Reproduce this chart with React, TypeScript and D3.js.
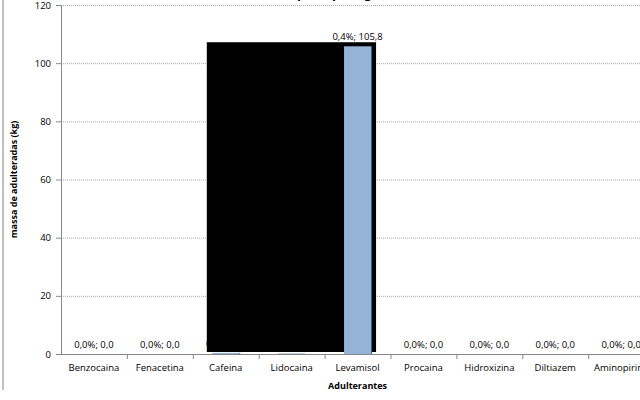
import React from "react";
import * as d3 from "d3";

// Adulterant categories and the mass (kg) / share (%) found for each
const categories = [
  "Benzocaina",
  "Fenacetina",
  "Cafeina",
  "Lidocaina",
  "Levamisol",
  "Procaina",
  "Hidroxizina",
  "Diltiazem",
  "Aminopirina",
];
const massKg = [0.0, 0.0, 0.4, 0.2, 105.8, 0.0, 0.0, 0.0, 0.0];
const sharePct = [0.0, 0.0, 0.1, 0.1, 0.4, 0.0, 0.0, 0.0, 0.0];
const yTicks = [0, 20, 40, 60, 80, 100, 120];

const W = 640;
const H = 400;
const FONT = "'Open Sans', 'Liberation Sans', sans-serif";

const fmt = (v: number) => v.toFixed(1).replace(".", ",");

export default function App() {
  const left = 61;
  const step = 65.9;
  const x = d3
    .scaleBand<string>()
    .domain(categories)
    .range([left, left + step * categories.length])
    .paddingInner(0.59)
    .paddingOuter(0.295);
  const band = d3
    .scaleBand<string>()
    .domain(categories)
    .range([left, left + step * categories.length]);
  const y = d3.scaleLinear().domain([0, 120]).range([354, 5]);

  const xEnd = left + step * categories.length;

  // redaction panel over the middle categories
  const boxX0 = (band("Cafeina") ?? 0) + 14;
  const boxX1 = (x("Levamisol") ?? 0) + x.bandwidth() + 5;
  const boxY0 = y(107.2);
  const boxY1 = y(0) - 2;

  return (
    <div style={{ position: "fixed", left: 0, top: 0 }}>
      <svg width={W} height={H} style={{ display: "block", background: "#fff" }}>
        {/* outer frame edge */}
        <line x1={3} x2={3} y1={0} y2={390} stroke="#bfbfbf" strokeWidth={2} />

        {/* title, running off the top edge */}
        <text
          x={376}
          y={-2.5}
          textAnchor="end"
          fontFamily={FONT}
          fontWeight="bold"
          fontSize={13}
          fill="#000"
        >
          Massa de adulterantes por tipo (kg)
        </text>

        {/* gridlines */}
        {yTicks.map((t) => (
          <line
            key={"g" + t}
            x1={left}
            x2={xEnd}
            y1={y(t) + 0.5}
            y2={y(t) + 0.5}
            stroke="#a6a6a6"
            strokeWidth={1}
            strokeDasharray="1,1"
            opacity={t === 0 ? 0 : 1}
          />
        ))}

        {/* y axis */}
        <line x1={left + 0.5} x2={left + 0.5} y1={y(120)} y2={y(0)} stroke="#868686" />
        {yTicks.map((t) => (
          <g key={"y" + t}>
            <line x1={left - 5} x2={left} y1={y(t) + 0.5} y2={y(t) + 0.5} stroke="#868686" />
            <text
              x={51}
              y={y(t) + 3.5}
              textAnchor="end"
              fontFamily={FONT}
              fontSize={9.5}
              fill="#000"
            >
              {t}
            </text>
          </g>
        ))}
        <text
          transform={`translate(17, ${(y(0) + y(120)) / 2}) rotate(-90)`}
          textAnchor="middle"
          fontFamily={FONT}
          fontSize={9}
          fontWeight="bold"
          fill="#000"
        >
          massa de adulteradas  (kg)
        </text>

        {/* bars */}
        {categories.map((c, i) => {
          const bx = x(c) ?? 0;
          const by = y(massKg[i]);
          const bh = y(0) - by;
          return (
            <g key={"b" + c}>
              <rect x={bx} y={by} width={x.bandwidth()} height={bh} fill="#95b3d7" />
              {bh > 1 && (
                <line
                  x1={bx + x.bandwidth() + 0.5}
                  x2={bx + x.bandwidth() + 0.5}
                  y1={by}
                  y2={y(0)}
                  stroke="#385d8a"
                  strokeWidth={1}
                />
              )}
              <text
                x={bx + x.bandwidth() / 2}
                y={by - 6}
                textAnchor="middle"
                fontFamily={FONT}
                fontSize={9.5}
                fill="#000"
              >
                {`${fmt(sharePct[i])}%; ${fmt(massKg[i])}`}
              </text>
            </g>
          );
        })}

        {/* x axis */}
        <line x1={left} x2={xEnd} y1={y(0) + 0.5} y2={y(0) + 0.5} stroke="#868686" />
        {categories.map((c) => (
          <line
            key={"t" + c}
            x1={(band(c) ?? 0) + step + 0.5}
            x2={(band(c) ?? 0) + step + 0.5}
            y1={y(0)}
            y2={y(0) + 5}
            stroke="#868686"
          />
        ))}
        {categories.map((c) => (
          <text
            key={"l" + c}
            x={(band(c) ?? 0) + step / 2}
            y={y(0) + 17}
            textAnchor="middle"
            fontFamily={FONT}
            fontSize={9.5}
            fill="#000"
          >
            {c}
          </text>
        ))}
        <text
          x={(x("Levamisol") ?? 0) + x.bandwidth() / 2}
          y={389}
          textAnchor="middle"
          fontFamily={FONT}
          fontSize={9}
          fontWeight="bold"
          fill="#000"
        >
          Adulterantes
        </text>

        {/* redaction panel, then the Levamisol bar that shows in front of it */}
        <rect x={boxX0} y={boxY0} width={boxX1 - boxX0} height={boxY1 - boxY0} fill="#000" />
        {categories
          .map((c, i) => ({ c, i }))
          .filter(({ c }) => c === "Levamisol")
          .map(({ c, i }) => {
            const bx = x(c) ?? 0;
            const by = y(massKg[i]);
            return (
              <g key={"f" + c}>
                <rect x={bx} y={by} width={x.bandwidth()} height={boxY1 - by} fill="#95b3d7" />
                <line
                  x1={bx + x.bandwidth() + 0.5}
                  x2={bx + x.bandwidth() + 0.5}
                  y1={by}
                  y2={boxY1}
                  stroke="#385d8a"
                />
              </g>
            );
          })}
      </svg>
    </div>
  );
}
